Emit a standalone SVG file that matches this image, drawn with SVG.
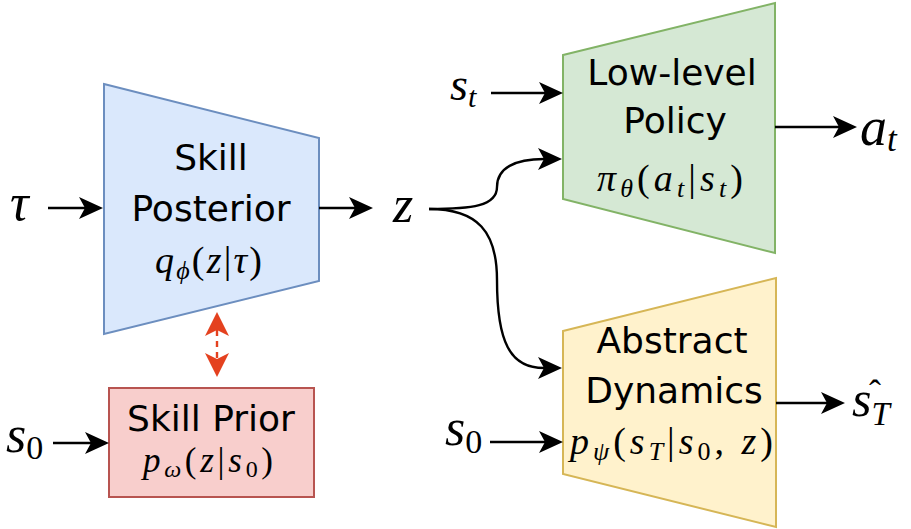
<svg xmlns="http://www.w3.org/2000/svg" width="911" height="529" viewBox="0 0 911 529">
<style>
.lbl{font-family:"DejaVu Sans","Liberation Sans",sans-serif;font-size:36px;fill:#000;text-anchor:middle}
.mb{font-family:"Liberation Serif","DejaVu Serif",serif;font-size:38px;fill:#000;text-anchor:middle}
.m{font-family:"Liberation Serif","DejaVu Serif",serif;font-size:52px;fill:#000}
.i{font-style:italic}
.sub{font-size:26px}
.edge{fill:none;stroke:#000;stroke-width:2.4}
.red{fill:none;stroke:#e4411f;stroke-width:2.4;stroke-dasharray:6 5}
</style>
<defs>
<marker id="ah" markerUnits="userSpaceOnUse" markerWidth="24" markerHeight="22" viewBox="0 0 24 22" refX="6" refY="11" orient="auto">
<path d="M0,0 L24,11 L0,22 L6,11 Z" fill="#000"/>
</marker>
<marker id="ahr" markerUnits="userSpaceOnUse" markerWidth="24" markerHeight="24" viewBox="0 0 24 24" refX="6" refY="12" orient="auto-start-reverse">
<path d="M0,0 L24,12 L0,24 L6,12 Z" fill="#e4411f"/>
</marker>
</defs>

<g id="posterior">
<polygon points="104,84 319,138 319,281 104,334" fill="#dae8fc" stroke="#6c8ebf" stroke-width="2"/>
<text class="lbl" x="211" y="170">Skill</text>
<text class="lbl" x="211" y="221">Posterior</text>
<text class="mb" x="208.5" y="273" textLength="107"><tspan class="i">q</tspan><tspan class="i sub" dy="6">ϕ</tspan><tspan dy="-6">(</tspan><tspan class="i">z</tspan>|<tspan class="i">τ</tspan>)</text>
</g>

<g id="prior">
<rect x="109" y="388" width="205" height="109" fill="#f8cecc" stroke="#b85450" stroke-width="2"/>
<text class="lbl" x="211" y="431">Skill Prior</text>
<text class="mb" x="208" y="472" textLength="130" style="font-size:35px"><tspan class="i">p</tspan><tspan class="i" dy="5" style="font-size:24px">ω</tspan><tspan dy="-5">(</tspan><tspan class="i">z</tspan>|<tspan class="i">s</tspan><tspan dy="5" style="font-size:24px">0</tspan><tspan dy="-5">)</tspan></text>
</g>

<g id="policy">
<polygon points="563,55 775,3 775,253 563,199" fill="#d5e8d4" stroke="#82b366" stroke-width="2"/>
<text class="lbl" x="672" y="85">Low-level</text>
<text class="lbl" x="675" y="133">Policy</text>
<text class="mb" x="670" y="191" textLength="146"><tspan class="i">π</tspan><tspan class="i sub" dy="6">θ</tspan><tspan dy="-6">(</tspan><tspan class="i">a</tspan><tspan class="i sub" dy="6">t</tspan><tspan dy="-6">|</tspan><tspan class="i">s</tspan><tspan class="i sub" dy="6">t</tspan><tspan dy="-6">)</tspan></text>
</g>

<g id="dynamics">
<polygon points="563,331 776,278 776,527 563,474" fill="#fff2cc" stroke="#d6b656" stroke-width="2"/>
<text class="lbl" x="672" y="353">Abstract</text>
<text class="lbl" x="674" y="403">Dynamics</text>
<text class="mb" x="671.5" y="454" textLength="203"><tspan class="i">p</tspan><tspan class="i sub" dy="6">ψ</tspan><tspan dy="-6">(</tspan><tspan class="i">s</tspan><tspan class="i sub" dy="6">T</tspan><tspan dy="-6">|</tspan><tspan class="i">s</tspan><tspan class="sub" dy="6">0</tspan><tspan dy="-6">, </tspan><tspan class="i">z</tspan>)</text>
</g>

<g id="labels">
<text class="m i" x="10" y="220">τ</text>
<text class="m i" x="393" y="222">z</text>
<text class="m" x="450" y="100" style="font-size:46px"><tspan class="i">s</tspan><tspan class="i" dy="7" style="font-size:30px">t</tspan></text>
<text class="m" x="860" y="145" style="font-size:54px"><tspan class="i">a</tspan><tspan class="i" dy="6" style="font-size:35px">t</tspan></text>
<text class="m" x="852" y="416" style="font-size:50px"><tspan class="i">s</tspan><tspan class="i" dy="9" style="font-size:33px">T</tspan><tspan x="869" y="405" style="font-size:36px">ˆ</tspan></text>
<text class="m" x="6" y="452"><tspan class="i">s</tspan><tspan dy="7" style="font-size:34px">0</tspan></text>
<text class="m" x="445" y="445"><tspan class="i">s</tspan><tspan dy="8" style="font-size:34px">0</tspan></text>
</g>

<g id="connectors">
<line class="edge" x1="48" y1="208" x2="85" y2="208" marker-end="url(#ah)"/>
<line class="edge" x1="319" y1="208" x2="355" y2="208" marker-end="url(#ah)"/>
<line class="edge" x1="491" y1="93" x2="545" y2="93" marker-end="url(#ah)"/>
<line class="edge" x1="775" y1="127" x2="839" y2="127" marker-end="url(#ah)"/>
<line class="edge" x1="776" y1="403" x2="827" y2="403" marker-end="url(#ah)"/>
<line class="edge" x1="490" y1="442" x2="545" y2="442" marker-end="url(#ah)"/>
<line class="edge" x1="53" y1="443" x2="91" y2="443" marker-end="url(#ah)"/>
<path class="edge" d="M429,209 C472,209 497,206 497,187 C497,168 515,159 544,159" marker-end="url(#ah)"/>
<path class="edge" d="M429,209 C478,209 497,232 497,280 C497,342 510,368 544,368" marker-end="url(#ah)"/>
<line class="red" x1="217" y1="330" x2="217" y2="359" marker-start="url(#ahr)" marker-end="url(#ahr)"/>
</g>
</svg>
